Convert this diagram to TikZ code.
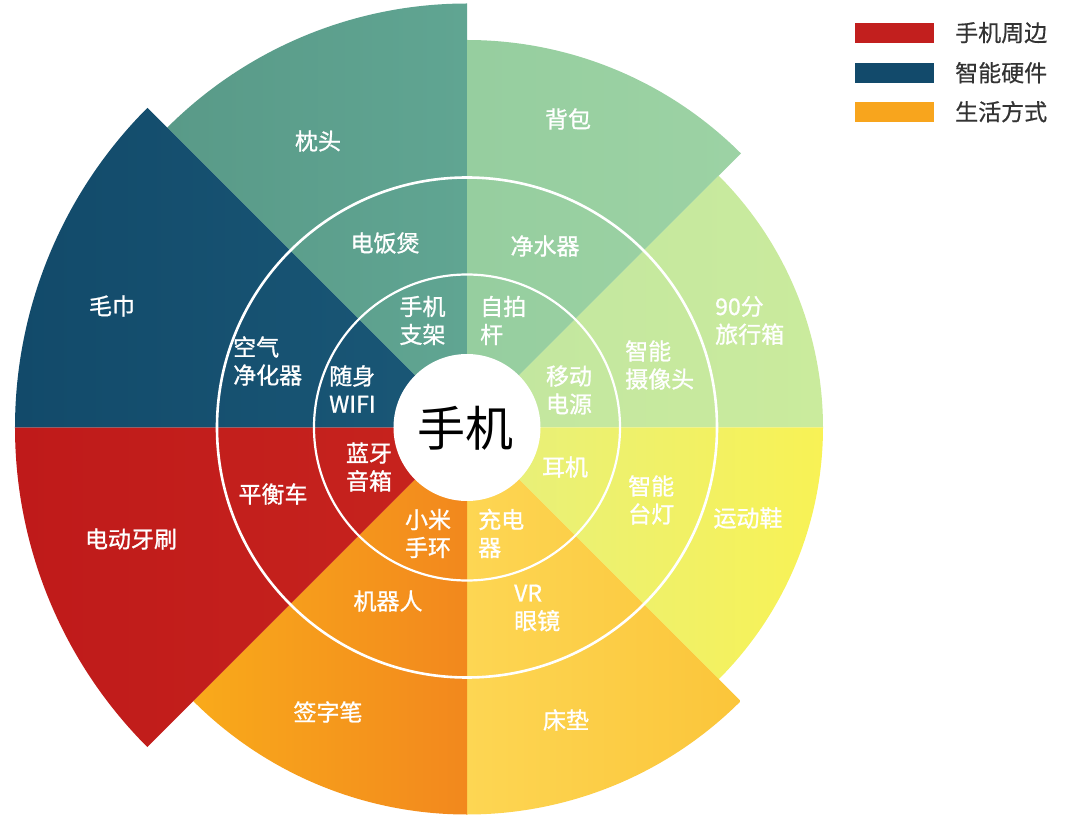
\documentclass[tikz,border=0pt]{standalone}
\usepackage{fontspec}
\setmainfont{Noto Sans CJK SC}
\newfontfamily\labfont{Noto Sans CJK SC}[FakeBold=1]
\newfontfamily\legfont{Noto Sans CJK SC}[FakeBold=0.5]
\definecolor{tealL}{HTML}{599A88}
\definecolor{tealR}{HTML}{60A592}
\definecolor{lgL}{HTML}{96CE9F}
\definecolor{lgR}{HTML}{9CD2A4}
\definecolor{pgL}{HTML}{C2E6A0}
\definecolor{pgR}{HTML}{CAEB9D}
\definecolor{yeL}{HTML}{E6F07E}
\definecolor{yeR}{HTML}{F8F255}
\definecolor{yoL}{HTML}{FDD653}
\definecolor{yoR}{HTML}{FBC53A}
\definecolor{orL}{HTML}{F9AA1B}
\definecolor{orR}{HTML}{F2881D}
\definecolor{rdL}{HTML}{BF1A1A}
\definecolor{rdR}{HTML}{C7241E}
\definecolor{blL}{HTML}{124A6A}
\definecolor{blR}{HTML}{1A5877}
\definecolor{legRed}{HTML}{C21F1E}
\definecolor{legBlue}{HTML}{124A6B}
\definecolor{legOrange}{HTML}{F8A51D}
\definecolor{legText}{HTML}{333333}
\begin{document}
\begin{tikzpicture}[x=1pt,y=1pt,
  lab/.style={text=white, inner sep=0pt, font=\labfont\fontsize{23}{28}\selectfont, align=center},
  labl/.style={lab, align=left, anchor=west},
  legtxt/.style={text=legText, inner sep=0pt, anchor=west, font=\legfont\fontsize{23}{28}\selectfont},
  ring/.style={draw=white}]
\useasboundingbox (-467,-396.5) rectangle (603,427.5);
% sectors
\path[left color=tealL, right color=tealR] (0,0) -- (90:424) arc[start angle=90, end angle=135, radius=424] -- cycle;
\path[left color=lgL, right color=lgR] (0,0) -- (45:387.5) arc[start angle=45, end angle=90, radius=387.5] -- cycle;
\path[left color=pgL, right color=pgR] (0,0) -- (0:356) arc[start angle=0, end angle=45, radius=356] -- cycle;
\path[left color=yeL, right color=yeR] (0,0) -- (-45:356) arc[start angle=-45, end angle=0, radius=356] -- cycle;
\path[left color=yoL, right color=yoR] (0,0) -- (-90:387) arc[start angle=-90, end angle=-45, radius=387] -- cycle;
\path[left color=orL, right color=orR] (0,0) -- (-135:387) arc[start angle=-135, end angle=-90, radius=387] -- cycle;
\path[left color=rdL, right color=rdR] (0,0) -- (180:452) arc[start angle=180, end angle=225, radius=452] -- cycle;
\path[left color=blL, right color=blR] (0,0) -- (135:452) arc[start angle=135, end angle=180, radius=452] -- cycle;
% rings
\draw[ring, line width=2.2pt] (0,0) circle[radius=153];
\draw[ring, line width=2.6pt] (0,0) circle[radius=250];
\fill[white] (0,0) circle[radius=73.5];
% labels in image coordinates
\begin{scope}[shift={(-467,427.5)}, yscale=-1]
  \node[inner sep=0pt, font=\fontsize{48}{56}\selectfont] (center) at (466,428) {手机};
  % outer ring
  \node[lab] (zhentou) at (318,141) {枕头};
  \node[lab] (beibao) at (568,119) {背包};
  \node[lab] (maojin) at (112,306) {毛巾};
  \node[labl] (lvxing) at (715,320.5) {90分\\旅行箱};
  \node[lab] (yundong) at (748,518) {运动鞋};
  \node[lab] (yashua) at (131,539) {电动牙刷};
  \node[lab] (qianzi) at (328,712) {签字笔};
  \node[lab] (chuangdian) at (566,720) {床垫};
  % middle ring
  \node[lab] (fanbao) at (385,243) {电饭煲};
  \node[lab] (jingshui) at (545,246) {净水器};
  \node[labl] (kongqi) at (233,361) {空气\\净化器};
  \node[labl] (shexiang) at (625,365) {智能\\摄像头};
  \node[lab] (pingheng) at (273,494) {平衡车};
  \node[labl] (taideng) at (628,500) {智能\\台灯};
  \node[lab] (jiqiren) at (388,601) {机器人};
  \node[labl] (vr) at (514,608) {VR\\眼镜};
  % inner ring
  \node[lab] (zhijia) at (422.5,320.5) {手机\\支架};
  \node[labl] (zipai) at (480,320.5) {自拍\\杆};
  \node[labl] (wifi) at (329,389) {随身\\WIFI};
  \node[lab] (dianyuan) at (569,390) {移动\\电源};
  \node[lab] (yinxiang) at (369,467) {蓝牙\\音箱};
  \node[lab] (erji) at (565,467) {耳机};
  \node[lab] (shouhuan) at (428,533.5) {小米\\手环};
  \node[labl] (chongdian) at (478,533.5) {充电\\器};
  % legend
  \fill[legRed] (855,22.7) rectangle (934,42.7);
  \fill[legBlue] (855,62.7) rectangle (934,82.7);
  \fill[legOrange] (855,101.7) rectangle (934,121.7);
  \node[legtxt] (leg1) at (955,32.7) {手机周边};
  \node[legtxt] (leg2) at (955,72.7) {智能硬件};
  \node[legtxt] (leg3) at (955,111.7) {生活方式};
\end{scope}
\end{tikzpicture}
\end{document}
